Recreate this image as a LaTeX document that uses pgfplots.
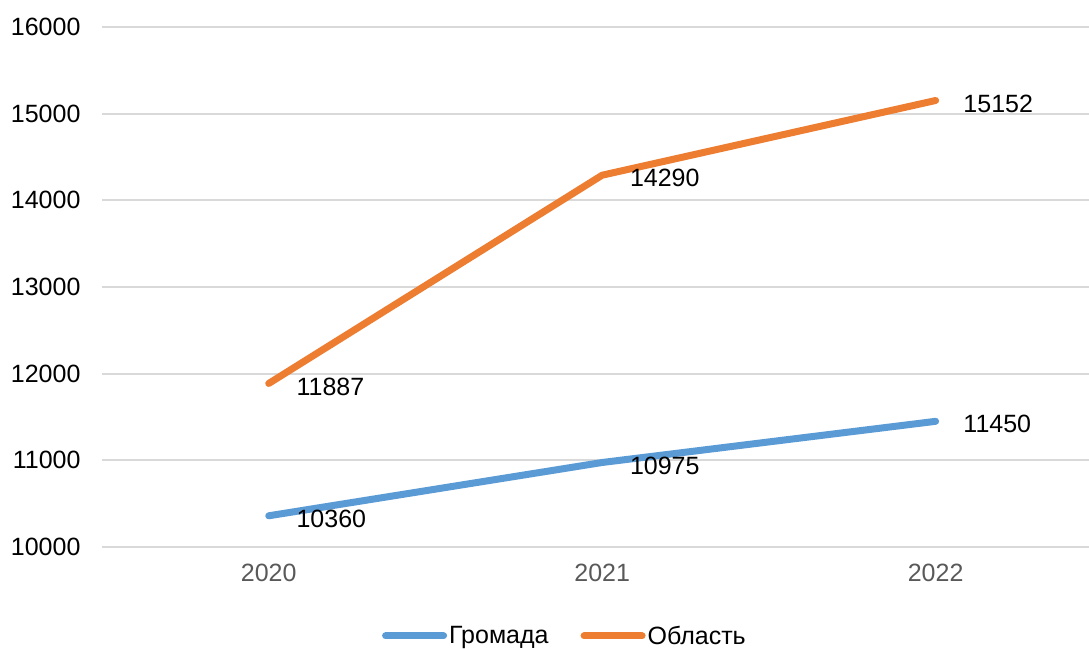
\documentclass[border=0pt]{standalone}
\usepackage{fontspec}
\setmainfont{Liberation Sans}
\usepackage{pgfplots}
\pgfplotsset{compat=1.18}

\definecolor{gromada}{HTML}{5B9BD5}
\definecolor{oblast}{HTML}{ED7D31}
\definecolor{gridgray}{HTML}{D9D9D9}
\definecolor{ticktext}{HTML}{595959}

\begin{document}
\begin{tikzpicture}
  \begin{axis}[
      name=ax,
      scale only axis,
      width=987pt,
      height=520pt,
      xmin=-0.5, xmax=2.46,
      ymin=10000, ymax=16000,
      xtick={0,1,2},
      xticklabels={2020,2021,2022},
      ytick={10000,11000,...,16000},
      scaled y ticks=false,
      yticklabel={\pgfmathprintnumber[fixed,precision=0,1000 sep={},assume math mode=true]{\tick}},
      ymajorgrids=true,
      grid style={gridgray, line width=2pt},
      axis line style={draw=none},
      major tick length=0pt,
      tick label style={font=\fontsize{25}{30}\selectfont},
      xticklabel style={text=ticktext, yshift=-14pt},
      yticklabel style={text=black, xshift=-18pt},
      every axis plot/.append style={line width=7pt, line cap=round, line join=round},
      point meta=explicit symbolic,
      nodes near coords,
      every node near coord/.append style={
        anchor=west, xshift=21pt, yshift=-3pt, text=black,
        font=\fontsize{25}{30}\selectfont},
      legend columns=-1,
      legend style={
        draw=none, fill=none,
        at={(axis description cs:0.469,-0.171)}, anchor=center,
        font=\fontsize{25}{30}\selectfont,
        /tikz/every even column/.append style={column sep=30pt},
      },
      legend image code/.code={
        \draw[#1, line width=7pt, line cap=round] (0pt,0pt) -- (58pt,0pt);
      },
    ]
    \addplot[gromada, no markers] coordinates {
      (0,10360) [10360]
      (1,10975) [10975]
      (2,11450) [11450]
    };
    \addlegendentry{Громада}
    \addplot[oblast, no markers] coordinates {
      (0,11887) [11887]
      (1,14290) [14290]
      (2,15152) [15152]
    };
    \addlegendentry{Область}
  \end{axis}
  \pgfresetboundingbox
  \path ([xshift=-102pt, yshift=-102pt]ax.south west) rectangle ([yshift=27pt]ax.north east);
\end{tikzpicture}
\end{document}
